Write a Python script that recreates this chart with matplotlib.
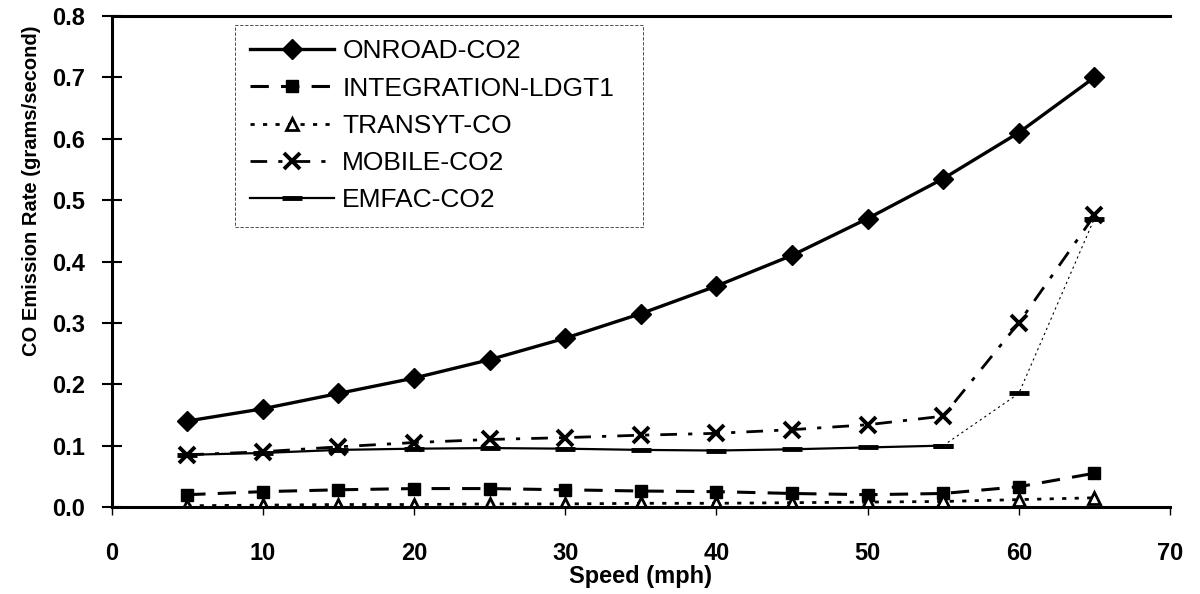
import matplotlib.pyplot as plt

plt.rcParams['font.family'] = ['Liberation Sans', 'DejaVu Sans']

speed = [5, 10, 15, 20, 25, 30, 35, 40, 45, 50, 55, 60, 65]
onroad = [0.14, 0.16, 0.185, 0.21, 0.24, 0.275, 0.315, 0.36, 0.41, 0.47, 0.535, 0.61, 0.70]
integration = [0.02, 0.025, 0.028, 0.03, 0.03, 0.028, 0.026, 0.025, 0.022, 0.02, 0.022, 0.033, 0.055]
transyt = [0.002, 0.003, 0.004, 0.004, 0.005, 0.005, 0.006, 0.006, 0.007, 0.008, 0.009, 0.012, 0.015]
mobile = [0.085, 0.09, 0.098, 0.105, 0.11, 0.113, 0.117, 0.12, 0.126, 0.134, 0.148, 0.30, 0.475]
emfac = [0.085, 0.088, 0.093, 0.095, 0.096, 0.095, 0.093, 0.092, 0.094, 0.097, 0.10, 0.185, 0.47]
xticklabels = ['0', '10', '20', '30', '40', '50', '60', '70']

fig = plt.figure(figsize=(12, 5.94), dpi=100)
ax = fig.add_axes([0.093, 0.1465, 0.882, 0.8265])

ax.plot(speed, onroad, color='black', lw=2.4, marker='D', ms=10, label='ONROAD-CO2')
ax.plot(speed, integration, color='black', lw=2.2, ls=(0, (6, 4)), marker='s', ms=9,
        label='INTEGRATION-LDGT1')
ax.plot(speed, transyt, color='black', lw=2, ls=(0, (1.5, 3)), marker='^', ms=9,
        mfc='white', mew=2, label='TRANSYT-CO')
ax.plot(speed, mobile, color='black', lw=2, ls=(0, (6, 4, 1.5, 4)), marker='x', ms=12,
        mew=2.8, label='MOBILE-CO2')
ax.plot(speed[:11], emfac[:11], color='black', lw=1.6, marker='_', ms=14, mew=3.5,
        label='EMFAC-CO2')
ax.plot(speed[10:], emfac[10:], color='black', lw=0.8, ls=(0, (2, 3)), marker='_', ms=14, mew=3.5)

ax.set_xlim(0, 70)
ax.set_ylim(0, 0.8)
ax.set_xticks(range(0, 71, 10))
ax.set_xticklabels(xticklabels)
ax.set_yticks([i / 10 for i in range(9)])
ax.set_yticklabels([f'{i / 10:.1f}' for i in range(9)])

ax.spines['right'].set_visible(False)
for s in ['left', 'top', 'bottom']:
    ax.spines[s].set_linewidth(2.2)
ax.tick_params(axis='y', direction='inout', length=14, width=1.5, labelsize=17, pad=12)
ax.tick_params(axis='x', direction='out', length=6, width=1, labelsize=17, pad=19)
for lbl in ax.get_xticklabels() + ax.get_yticklabels():
    lbl.set_fontweight('bold')

ax.set_xlabel('Speed (mph)', fontsize=17, fontweight='bold', labelpad=0)
ax.set_ylabel('CO Emission Rate (grams/second)', fontsize=14.5, fontweight='bold', labelpad=14)
ax.yaxis.set_label_coords(-0.067, 0.645)

leg = ax.legend(loc='upper left', bbox_to_anchor=(0.117, 0.57, 0.385, 0.412), mode='expand',
                borderaxespad=0, fontsize=19, frameon=True, fancybox=False, edgecolor='black',
                handlelength=3.2, labelspacing=0.5, borderpad=0.55, handletextpad=0.3)
leg.get_frame().set_linewidth(0.6)
leg.get_frame().set_linestyle((0, (4, 2)))

fig.savefig('out.png', dpi=100)
